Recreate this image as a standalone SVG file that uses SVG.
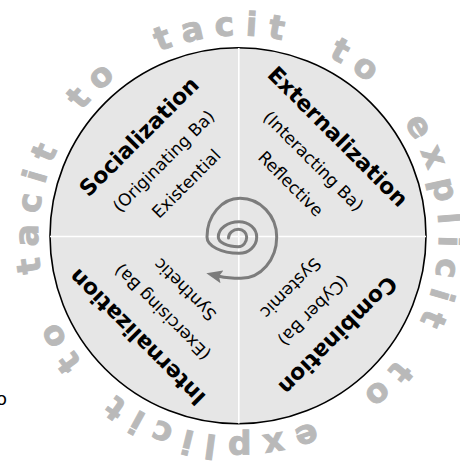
<svg xmlns="http://www.w3.org/2000/svg" width="460" height="466" viewBox="0 0 460 466">
<style>
.ring{font-family:"DejaVu Sans",Verdana,sans-serif;font-weight:bold;font-size:33px;fill:#b9b9b9;stroke:#b9b9b9;stroke-width:0.9;text-anchor:middle}
.title{font-family:"DejaVu Sans",Verdana,sans-serif;font-weight:bold;font-size:22px;fill:#000;text-anchor:middle}
.sub{font-family:"DejaVu Sans",Verdana,sans-serif;font-size:17px;fill:#000;text-anchor:middle}
.stray{font-family:"DejaVu Sans",Verdana,sans-serif;font-size:18px;fill:#000}
.spiral{fill:none;stroke:#7c7c7c;stroke-width:3;stroke-linecap:round}
</style>
<defs>
<marker id="ah" viewBox="0 0 16 13" refX="3" refY="6.5" markerWidth="16" markerHeight="13" markerUnits="userSpaceOnUse" orient="auto">
<path d="M0,0 L16,6.5 L0,13 L3,6.5 z" fill="#7c7c7c"/>
</marker>
</defs>
<rect width="460" height="466" fill="#fff"/>
<g id="wheel">
<circle cx="238" cy="235.8" r="188" fill="#e6e6e6" stroke="#000" stroke-width="1.6"/>
<line x1="238.8" y1="48" x2="238.8" y2="423.5" stroke="#fff" stroke-width="1.6"/>
<line x1="50" y1="236.5" x2="426" y2="236.5" stroke="#fff" stroke-width="1.6"/>
</g>
<g id="ring">
<text class="ring" transform="rotate(338.91,238.5,236)" x="238.5" y="35.5">t</text>
<text class="ring" transform="rotate(347.26,238.5,236)" x="238.5" y="35.5">a</text>
<text class="ring" transform="rotate(356.12,238.5,236)" x="238.5" y="35.5">c</text>
<text class="ring" transform="rotate(3.51,238.5,236)" x="238.5" y="35.5">i</text>
<text class="ring" transform="rotate(10.39,238.5,236)" x="238.5" y="35.5">t</text>
<text class="ring" transform="rotate(28.75,238.5,236)" x="238.5" y="35.5">t</text>
<text class="ring" transform="rotate(37.15,238.5,236)" x="238.5" y="35.5">o</text>
<text class="ring" transform="rotate(58.7,238.5,236)" x="238.5" y="35.5">e</text>
<text class="ring" transform="rotate(67.88,238.5,236)" x="238.5" y="35.5">x</text>
<text class="ring" transform="rotate(77.23,238.5,236)" x="238.5" y="35.5">p</text>
<text class="ring" transform="rotate(85.16,238.5,236)" x="238.5" y="35.5">l</text>
<text class="ring" transform="rotate(91.44,238.5,236)" x="238.5" y="35.5">i</text>
<text class="ring" transform="rotate(98.83,238.5,236)" x="238.5" y="35.5">c</text>
<text class="ring" transform="rotate(106.22,238.5,236)" x="238.5" y="35.5">i</text>
<text class="ring" transform="rotate(113.1,238.5,236)" x="238.5" y="35.5">t</text>
<text class="ring" transform="rotate(130.1,238.5,236)" x="238.5" y="35.5">t</text>
<text class="ring" transform="rotate(138.5,238.5,236)" x="238.5" y="35.5">o</text>
<text class="ring" transform="rotate(161.15,238.5,236)" x="238.5" y="35.5">e</text>
<text class="ring" transform="rotate(170.33,238.5,236)" x="238.5" y="35.5">x</text>
<text class="ring" transform="rotate(179.68,238.5,236)" x="238.5" y="35.5">p</text>
<text class="ring" transform="rotate(187.61,238.5,236)" x="238.5" y="35.5">l</text>
<text class="ring" transform="rotate(193.89,238.5,236)" x="238.5" y="35.5">i</text>
<text class="ring" transform="rotate(201.28,238.5,236)" x="238.5" y="35.5">c</text>
<text class="ring" transform="rotate(208.67,238.5,236)" x="238.5" y="35.5">i</text>
<text class="ring" transform="rotate(215.55,238.5,236)" x="238.5" y="35.5">t</text>
<text class="ring" transform="rotate(233.25,238.5,236)" x="238.5" y="35.5">t</text>
<text class="ring" transform="rotate(241.65,238.5,236)" x="238.5" y="35.5">o</text>
<text class="ring" transform="rotate(261.81,238.5,236)" x="238.5" y="35.5">t</text>
<text class="ring" transform="rotate(270.16,238.5,236)" x="238.5" y="35.5">a</text>
<text class="ring" transform="rotate(279.02,238.5,236)" x="238.5" y="35.5">c</text>
<text class="ring" transform="rotate(286.41,238.5,236)" x="238.5" y="35.5">i</text>
<text class="ring" transform="rotate(293.29,238.5,236)" x="238.5" y="35.5">t</text>
<text class="ring" transform="rotate(310.75,238.5,236)" x="238.5" y="35.5">t</text>
<text class="ring" transform="rotate(319.15,238.5,236)" x="238.5" y="35.5">o</text>
</g>
<g id="socialization" transform="translate(238.5,236) rotate(-45)">
<text class="title" x="0" y="-133">Socialization</text>
<text class="sub" x="0" y="-100">(Originating Ba)</text>
<text class="sub" x="0" y="-68">Existential</text>
</g>
<g id="externalization" transform="translate(238.5,236) rotate(45)">
<text class="title" x="0" y="-133">Externalization</text>
<text class="sub" x="0" y="-100">(Interacting Ba)</text>
<text class="sub" x="0" y="-68">Reflective</text>
</g>
<g id="combination" transform="translate(238.5,236) rotate(135)">
<text class="title" x="0" y="-133">Combination</text>
<text class="sub" x="0" y="-100">(Cyber Ba)</text>
<text class="sub" x="0" y="-68">Systemic</text>
</g>
<g id="internalization" transform="translate(238.5,236) rotate(225)">
<text class="title" x="0" y="-135.5">Internalization</text>
<text class="sub" x="0" y="-102">(Exercising Ba)</text>
<text class="sub" x="0" y="-70">Synthetic</text>
</g>
<g id="connectors">
<path class="spiral" marker-end="url(#ah)" d="M228.5,238 A10,8.7 0 0 1 238.5,229.3 A8.2,7.7 0 0 1 246.7,237 A8.2,9.7 0 0 1 238.5,246.7 A20.2,9.7 0 0 1 218.3,237 A20.7,15.3 0 0 1 239,221.7 A17.7,15.3 0 0 1 256.7,237 A17.7,16.3 0 0 1 239,253.3 A32,16.3 0 0 1 207,237 A33,38.7 0 0 1 240,198.3 A36.7,38.7 0 0 1 276.7,237 A35.7,41.3 0 0 1 241,278.3 C233,278.3 226,277.8 219,276.2"/>
</g>
<text class="stray" x="-4" y="405">o</text>
</svg>
